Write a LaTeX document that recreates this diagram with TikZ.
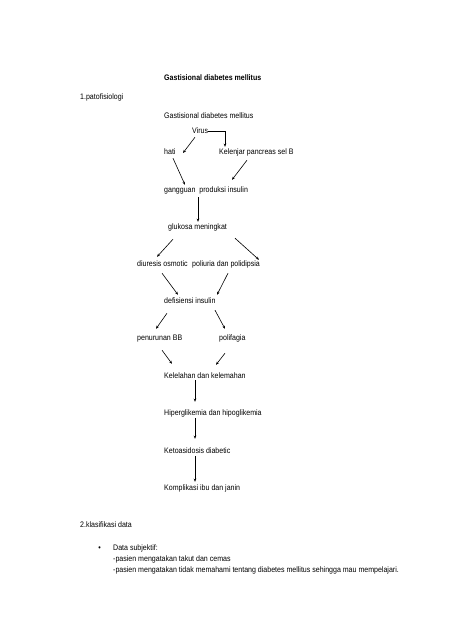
\documentclass[tikz,border=0pt]{standalone}
\usepackage{fontspec}
\setmainfont{Liberation Sans}[FakeStretch=0.88]
\usepackage{tikz}
\usetikzlibrary{arrows.meta, positioning, calc}
\tikzset{
  txt/.style={anchor=west, inner sep=0pt, text height=6pt, text depth=2pt,
              font=\fontsize{8}{11}\selectfont},
  ttl/.style={txt, font=\fontsize{8}{11}\selectfont\bfseries},
  arrow/.style={-{Stealth[length=3.2pt, width=2.6pt]}, line width=0.6pt, color=black},
}

\begin{document}
\begin{tikzpicture}[x=1pt, y=-1pt]
        \useasboundingbox[fill=white] (0,0) rectangle (453,640);
        % heading
        \node[ttl] (title) at (164,78) {Gastisional diabetes mellitus};
        \node[txt] (pato) at (80,97) {1.patofisiologi};
        \node[txt] (gdm) at (164,116) {Gastisional diabetes mellitus};
        % pathway
        \node[txt] (virus) at (192,131) {Virus};
        \node[txt] (hati) at (164,152) {hati};
        \node[txt] (kelenjar) at (219,152) {Kelenjar pancreas sel B};
        \node[txt] (gangguan) at (164,190) {gangguan\ \ produksi insulin};
        \node[txt] (glukosa) at (168,227) {glukosa meningkat};
        \node[txt] (diuresis) at (137,264) {diuresis osmotic};
        \node[txt] (poliuria) at (192,264) {poliuria dan polidipsia};
        \node[txt] (defisiensi) at (164,301) {defisiensi insulin};
        \node[txt] (penurunan) at (137,338) {penurunan BB};
        \node[txt] (polifagia) at (219,338) {polifagia};
        \node[txt] (kelelahan) at (164,376) {Kelelahan dan kelemahan};
        \node[txt] (hiper) at (164,413) {Hiperglikemia dan hipoglikemia};
        \node[txt] (keto) at (164,451) {Ketoasidosis diabetic};
        \node[txt] (kompl) at (164,488) {Komplikasi ibu dan janin};

        \draw[arrow] ($(virus.south west)+(3,2)$) -- ($(hati.west)+(19,1)$);
        \draw[arrow] (virus.east) -| ($(kelenjar.north west)+(6,-1)$);
        \draw[arrow] ($(hati.south west)+(9,2)$) -- ($(gangguan.north west)+(21,-1)$);
        \draw[arrow] ($(kelenjar.south west)+(28,4)$) -- ($(gangguan.north west)+(68,-6)$);
        \draw[arrow] ($(gangguan.south west)+(34,3)$) -- ($(glukosa.north west)+(30,-1)$);
        \draw[arrow] ($(glukosa.south west)+(5,8)$) -- ($(diuresis.north west)+(20,-3)$);
        \draw[arrow] ($(glukosa.south west)+(67,7)$) -- ($(poliuria.north west)+(67,0)$);
        \draw[arrow] ($(diuresis.south west)+(25,5)$) -- ($(defisiensi.north west)+(14,-2)$);
        \draw[arrow] ($(poliuria.south west)+(36,5)$) -- ($(defisiensi.north west)+(53,-2)$);
        \draw[arrow] ($(defisiensi.south west)+(3,8)$) -- ($(penurunan.north west)+(19,-5)$);
        \draw[arrow] ($(defisiensi.south west)+(51,5)$) -- ($(polifagia.north west)+(6,-5)$);
        \draw[arrow] ($(penurunan.south west)+(25,8)$) -- ($(kelelahan.north west)+(8,-8)$);
        \draw[arrow] ($(polifagia.south west)+(6,11)$) -- ($(kelelahan.north west)+(52,-7)$);
        \draw[arrow] ($(kelelahan.south west)+(31,0)$) -- ($(hiper.north west)+(31,-7)$);
        \draw[arrow] ($(hiper.south west)+(31,1)$) -- ($(keto.north west)+(31,-8)$);
        \draw[arrow] ($(keto.south west)+(31,1)$) -- ($(kompl.north west)+(31,-2)$);

        % data
        \node[txt] (klas) at (80,525) {2.klasifikasi data};
        \node[txt] (subj) at (113,548) {Data subjektif:};
        \node[txt, left=12pt of subj] (bullet) {\textbullet};
        \node[txt] (takut) at (113,559) {-pasien mengatakan takut dan cemas};
        \node[txt] (paham) at (113,570) {-pasien mengatakan tidak memahami tentang diabetes mellitus sehingga mau mempelajari.};
      \end{tikzpicture}
\end{document}
